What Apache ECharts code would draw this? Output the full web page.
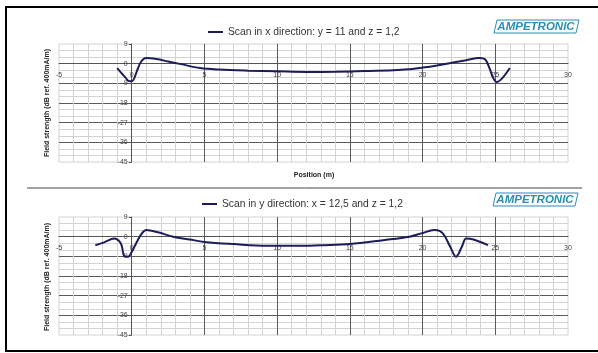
<!DOCTYPE html>
<html>
<head>
<meta charset="utf-8">
<script src="https://cdn.jsdelivr.net/npm/echarts@6/dist/echarts.min.js"></script>
<style>
  html, body { margin: 0; padding: 0; background: #fff; }
  #main { width: 598px; height: 353px; }
</style>
</head>
<body>
<div id="main"></div>
<script>
// scan in x direction (y = 11, z = 1,2)
var xs1 = [-1.0, -0.5, -0.15, 0.1, 0.35, 0.65, 1.0, 1.7, 2.5, 3.3, 4.7, 6.0, 8.0, 10.0, 12.0, 14.0, 16.0, 18.0, 19.0, 20.0, 21.0, 22.0, 23.0, 23.9, 24.3, 24.6, 24.85, 25.1, 25.5, 26.0];
var ys1 = [-2.0, -5.8, -8.1, -7.6, -3.5, 1.0, 2.6, 2.1, 1.0, -0.1, -2.0, -2.7, -3.2, -3.5, -3.8, -3.7, -3.4, -3.0, -2.6, -1.8, -0.8, 0.4, 1.6, 2.6, 2.0, -2.0, -6.5, -8.4, -6.5, -2.0];
// scan in y direction (x = 12,5, z = 1,2)
var xs2 = [-2.5, -1.9, -1.2, -0.9, -0.7, -0.5, -0.25, 0.0, 0.35, 0.7, 1.0, 1.8, 2.85, 4.0, 5.0, 7.0, 9.3, 11.5, 13.0, 15.0, 17.3, 19.1, 20.0, 20.8, 21.2, 21.5, 21.9, 22.3, 22.7, 23.0, 23.5, 24.5];
var ys2 = [-3.9, -2.6, -0.8, -1.8, -3.9, -9.0, -9.2, -7.0, -2.4, 1.5, 3.0, 2.0, 0.0, -1.3, -2.4, -3.4, -4.2, -4.2, -3.9, -3.4, -1.6, 0.0, 1.7, 3.0, 2.5, 0.5, -4.6, -9.2, -4.6, -0.8, -1.3, -3.9];

var names = ['Scan in x direction: y = 11 and z = 1,2', 'Scan in y direction: x = 12,5 and z = 1,2'];
var xTicks = {min: -5, max: 30, step: 5};
var yTicks = {min: -45, max: 9, step: 9};
var yTitle = 'Field strength (dB ref. 400mA/m)';
var xTitle = 'Position (m)';

var lineCol = '#1c1c5a';
var teal = '#2a8db5';
var gridLeft = 59, gridW = 509, gridH = 118;

function zip(a, b) { return a.map(function(v, i){ return [v, b[i]]; }); }

function xAx(idx) {
  // lift the x axis from the bottom edge up to y = 0
  var lift = (0 - yTicks.min) / (yTicks.max - yTicks.min) * gridH;
  return {
    type: 'value', gridIndex: idx, min: xTicks.min, max: xTicks.max, interval: xTicks.step,
    offset: -lift,
    axisLine: {onZero: false, lineStyle: {color: '#555', width: 1}},
    axisTick: {show: false},
    minorTick: {show: false, splitNumber: 5},
    axisLabel: {fontSize: 7, color: '#444', margin: 8, fontFamily: 'Liberation Sans'},
    splitLine: {show: true, showMinLine: false, showMaxLine: false, lineStyle: {color: '#5a5a5a', width: 1}},
    minorSplitLine: {show: true, lineStyle: {color: '#d2d2d2', width: 1}}
  };
}
function yAx(idx) {
  // put the y axis at x = 0 by shifting it right from the grid's left edge
  var shift = (0 - xTicks.min) / (xTicks.max - xTicks.min) * gridW;
  return {
    type: 'value', gridIndex: idx, min: yTicks.min, max: yTicks.max, interval: yTicks.step,
    offset: -shift,
    axisLine: {onZero: false, lineStyle: {color: '#555', width: 1}},
    axisTick: {show: true, length: 3, lineStyle: {color: '#555'}},
    minorTick: {show: false, splitNumber: 3},
    axisLabel: {fontSize: 7, color: '#444', margin: 4, fontFamily: 'Liberation Sans'},
    splitLine: {show: true, showMinLine: false, showMaxLine: false, lineStyle: {color: '#5a5a5a', width: 1}},
    minorSplitLine: {show: true, lineStyle: {color: '#d2d2d2', width: 1}}
  };
}

function logo(x, y) {
  return [
    {type: 'polygon', shape: {points: [[x + 3, y], [x + 85, y], [x + 82, y + 13], [x, y + 13]]},
     style: {fill: 'none', stroke: teal, lineWidth: 1}},
    {type: 'text', x: x + 42, y: y + 7,
     style: {text: 'AMPETRONIC', fill: teal, font: 'italic bold 11.5px "Liberation Sans"', textAlign: 'center', textVerticalAlign: 'middle'}}
  ];
}

var chart = echarts.init(document.getElementById('main'));
var graphics = [
  {type: 'rect', shape: {x: 6, y: 7, width: 640, height: 344}, style: {fill: 'none', stroke: '#000', lineWidth: 2}},
  {type: 'line', shape: {x1: 27, y1: 188, x2: 582, y2: 188}, style: {stroke: '#444', lineWidth: 1}},
  {type: 'text', x: 47, y: 103, rotation: Math.PI / 2,
   style: {text: yTitle, fill: '#222', font: 'bold 7px "Liberation Sans"', textAlign: 'center', textVerticalAlign: 'middle'}},
  {type: 'text', x: 47, y: 277, rotation: Math.PI / 2,
   style: {text: yTitle, fill: '#222', font: 'bold 7px "Liberation Sans"', textAlign: 'center', textVerticalAlign: 'middle'}},
  {type: 'text', x: 314, y: 175,
   style: {text: xTitle, fill: '#222', font: 'bold 7px "Liberation Sans"', textAlign: 'center', textVerticalAlign: 'middle'}}
].concat(logo(494, 20)).concat(logo(493, 193));

chart.setOption({
  animation: false,
  backgroundColor: '#fff',
  grid: [
    {left: gridLeft, top: 44, width: gridW, height: gridH, show: true, borderColor: '#d2d2d2', borderWidth: 1},
    {left: gridLeft, top: 217, width: gridW, height: gridH, show: true, borderColor: '#d2d2d2', borderWidth: 1}
  ],
  legend: [
    {data: [names[0]], left: 208, top: 27, padding: 0, icon: 'rect', itemWidth: 15, itemHeight: 2, itemGap: 4,
     textStyle: {fontSize: 10.3, color: '#333', fontFamily: 'Liberation Sans'}},
    {data: [names[1]], left: 202, top: 199, padding: 0, icon: 'rect', itemWidth: 15, itemHeight: 2, itemGap: 4,
     textStyle: {fontSize: 10.3, color: '#333', fontFamily: 'Liberation Sans'}}
  ],
  xAxis: [xAx(0), xAx(1)],
  yAxis: [yAx(0), yAx(1)],
  series: [
    {name: names[0], type: 'line', xAxisIndex: 0, yAxisIndex: 0, data: zip(xs1, ys1),
     smooth: 0.35, showSymbol: false, symbol: 'none', color: lineCol, lineStyle: {width: 2, color: lineCol}},
    {name: names[1], type: 'line', xAxisIndex: 1, yAxisIndex: 1, data: zip(xs2, ys2),
     smooth: 0.35, showSymbol: false, symbol: 'none', color: lineCol, lineStyle: {width: 2, color: lineCol}}
  ],
  graphic: graphics
});
</script>
</body>
</html>
